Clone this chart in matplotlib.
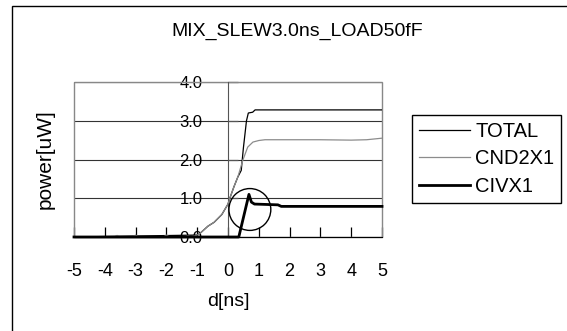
import matplotlib
matplotlib.use("Agg")
import matplotlib.pyplot as plt
from matplotlib.patches import Ellipse, Rectangle

plt.rcParams["font.family"] = ["Liberation Sans", "DejaVu Sans"]

# values
total_x = [-5, -1.0, -0.9, -0.65, -0.45, -0.2, 0.0, 0.05, 0.19, 0.32, 0.43, 0.5, 0.6, 0.66, 0.8, 0.88, 5.0]
total_y = [0, 0.05, 0.1, 0.28, 0.38, 0.58, 0.85, 0.98, 1.29, 1.55, 1.72, 2.3, 3.0, 3.2, 3.22, 3.28, 3.28]

cnd_x = [-5, -3.7, -3.6, -3.5, -3.1, -3.0, -2.9, -2.1, -2.0, -1.9, -1.4, -1.3, -1.2, -1.0, -0.9,
         -0.65, -0.45, -0.2, 0.0, 0.05, 0.19, 0.32, 0.48, 0.64, 0.81, 1.0, 1.2, 2.0, 3.0, 4.0, 4.5, 5.0]
cnd_y = [0, 0, 0.04, 0, 0, 0.05, 0, 0, 0.05, 0, 0, 0.03, 0, 0.05, 0.1,
         0.28, 0.38, 0.58, 0.85, 0.98, 1.29, 1.55, 1.98, 2.32, 2.45, 2.49, 2.51, 2.51, 2.51, 2.5, 2.51, 2.55]

civ_x = [-5, 0.35, 0.68, 0.76, 0.86, 1.62, 1.73, 5.0]
civ_y = [0, 0, 1.1, 0.9, 0.85, 0.83, 0.79, 0.79]

x_ticks = [-5, -4, -3, -2, -1, 0, 1, 2, 3, 4, 5]
y_ticks = [0.0, 1.0, 2.0, 3.0, 4.0]

W, H = 567, 331
fig = plt.figure(figsize=(W / 100, H / 100), dpi=100)
ax = fig.add_axes([74 / W, 1 - 237 / H, 308 / W, 155 / H])

ax.plot(total_x, total_y, color="black", lw=0.9, label="TOTAL", zorder=3)
ax.plot(cnd_x, cnd_y, color="#8c8c8c", lw=0.9, label="CND2X1", zorder=4)
ax.plot(civ_x, civ_y, color="black", lw=2.0, label="CIVX1", zorder=5, clip_on=False)

# circle marking the overshoot
ax.add_patch(Ellipse((0.71, 0.71), 1.36, 1.08, fill=False, ec="black", lw=1.0, zorder=6))

ax.set_xlim(-5, 5)
ax.set_ylim(0, 4)
ax.set_xticks(x_ticks)
ax.set_xticklabels([str(t) for t in x_ticks])
ax.set_yticks(y_ticks)
ax.set_yticklabels([f"{t:.1f}" for t in y_ticks])
ax.yaxis.grid(True, color="#333333", lw=0.8)
ax.set_axisbelow(True)

ax.spines["left"].set_position(("data", 0))
ax.spines["left"].set_color("#555555")
ax.spines["top"].set_visible(False)
ax.spines["right"].set_visible(False)
ax.spines["bottom"].set_color("black")
ax.add_patch(Rectangle((0, 0), 1, 1, transform=ax.transAxes, fill=False,
                       ec="#888888", lw=1.0, clip_on=False, zorder=1))

ax.tick_params(axis="x", direction="in", length=7, width=0.9, pad=18.5, labelsize=13)
ax.tick_params(axis="y", direction="in", length=7, width=0.9, pad=18.4, labelsize=12,
               color="#555555")

ax.set_xlabel("d[ns]", fontsize=14)
ax.xaxis.set_label_coords(0.5, -0.36)
ax.set_ylabel("power[uW]", fontsize=15)
ax.yaxis.set_label_coords(-0.064, 0.5)

fig.suptitle("MIX_SLEW3.0ns_LOAD50fF", x=297 / W, y=1 - 31 / H, va="center", fontsize=14)

leg = fig.legend(loc="upper left", bbox_to_anchor=(412 / W, 1 - 115 / H), borderaxespad=0,
                 fontsize=14.5, handlelength=2.55, handletextpad=0.25, borderpad=0.34,
                 labelspacing=0.42, fancybox=False, framealpha=1, edgecolor="black")
leg.get_frame().set_linewidth(1.0)

# outer chart border (runs off the right and bottom of the picture)
fig.add_artist(Rectangle((12 / W, -0.2), 1.2, 1 - 6 / H + 0.2, transform=fig.transFigure,
                         fill=False, ec="black", lw=1.0))

fig.savefig("out.png", dpi=100)
